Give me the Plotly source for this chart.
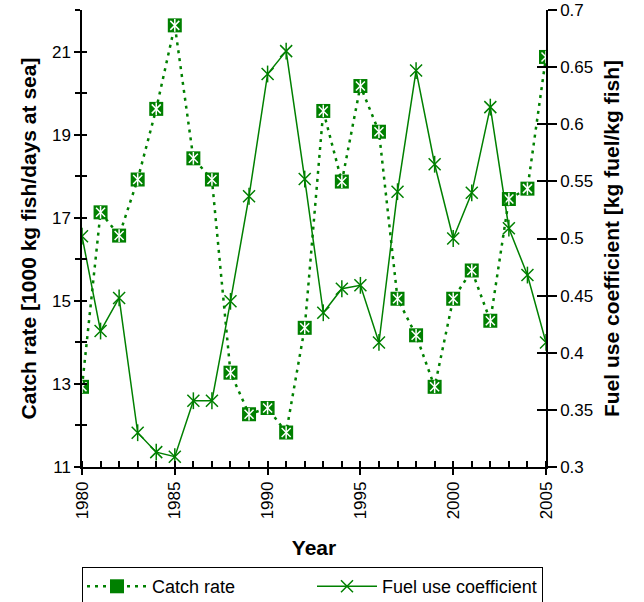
import plotly.graph_objects as go

years = list(range(1980, 2006))
catch_rate = [12.93, 17.13, 16.57, 17.92, 19.62, 21.63, 18.43, 17.92, 13.27, 12.27,
              12.42, 11.83, 14.35, 19.57, 17.87, 20.17, 19.07, 15.05, 14.17, 12.93,
              15.05, 15.73, 14.52, 17.45, 17.70, 20.87]
fuel_coef = [0.502, 0.419, 0.448, 0.330, 0.313, 0.309, 0.358, 0.358, 0.445, 0.537,
             0.644, 0.664, 0.552, 0.435, 0.456, 0.459, 0.409, 0.541, 0.647, 0.565,
             0.500, 0.540, 0.615, 0.509, 0.468, 0.409]

GREEN = "#008000"
FONT = "Arial, Liberation Sans, sans-serif"

fig = go.Figure()

# Catch rate: dotted line with filled square markers, white asterisk inside
fig.add_trace(go.Scatter(
    x=years, y=catch_rate, name="Catch rate", mode="lines+markers",
    line=dict(color=GREEN, width=2.5, dash="3px,5px"),
    marker=dict(symbol="square", size=14, color=GREEN, line=dict(width=0)),
    legendgroup="c", yaxis="y", xaxis="x"))
fig.add_trace(go.Scatter(
    x=years, y=catch_rate, mode="markers", showlegend=False, hoverinfo="skip",
    marker=dict(symbol="x-thin-open", size=9, color="white", line=dict(color="white", width=1.5)),
    legendgroup="c"))
fig.add_trace(go.Scatter(
    x=years, y=catch_rate, mode="markers", showlegend=False, hoverinfo="skip",
    marker=dict(symbol="line-ns-open", size=9, color="white", line=dict(color="white", width=1.5)),
    legendgroup="c"))

# Fuel use coefficient: solid line with star markers
fig.add_trace(go.Scatter(
    x=years, y=fuel_coef, name="Fuel use coefficient", mode="lines+markers",
    line=dict(color=GREEN, width=1.5),
    marker=dict(symbol="x-thin-open", size=12, color=GREEN, line=dict(color=GREEN, width=1.5)),
    legendgroup="f", yaxis="y2"))
fig.add_trace(go.Scatter(
    x=years, y=fuel_coef, mode="markers", showlegend=False, hoverinfo="skip",
    marker=dict(symbol="line-ns-open", size=12, color=GREEN, line=dict(color=GREEN, width=1.5)),
    legendgroup="f", yaxis="y2"))

# invisible helpers so the tick-only overlay axes get drawn
fig.add_trace(go.Scatter(x=years, y=catch_rate, xaxis="x2", yaxis="y3", mode="lines",
                         line=dict(color="rgba(0,0,0,0)"), showlegend=False, hoverinfo="skip"))
fig.add_trace(go.Scatter(x=years, y=fuel_coef, xaxis="x2", yaxis="y4", mode="lines",
                         line=dict(color="rgba(0,0,0,0)"), showlegend=False, hoverinfo="skip"))

tickfont = dict(family=FONT, size=17, color="black")
titlefont = dict(family=FONT, size=21, color="black")

fig.update_layout(
    width=644, height=602,
    margin=dict(l=82, r=98, t=10, b=135, autoexpand=False),
    paper_bgcolor="white", plot_bgcolor="white",
    font=dict(family=FONT, color="black"),
    xaxis=dict(range=[1980, 2005], tick0=1980, dtick=5, ticks="outside", ticklen=6,
               tickwidth=1.5, tickcolor="black", tickangle=-90, tickfont=tickfont,
               showline=True, linecolor="black", linewidth=1.5, showgrid=False,
               zeroline=False, automargin=False,
               minor=dict(dtick=1, ticks="inside", ticklen=6, tickwidth=1.5,
                          tickcolor="black", showgrid=False),
               title=dict(text="<b>Year</b>", font=titlefont, standoff=22)),
    xaxis2=dict(range=[1980, 2005], overlaying="x", anchor="y", side="bottom",
                tick0=1980, dtick=5, ticks="inside", ticklen=6, tickwidth=1.5,
                tickcolor="black", showticklabels=False, showline=False,
                showgrid=False, zeroline=False),
    yaxis=dict(range=[11, 22], tick0=11, dtick=2, ticks="outside", ticklen=6,
               tickwidth=1.5, tickcolor="black", tickfont=tickfont,
               showline=True, linecolor="black", linewidth=1.5, showgrid=False,
               zeroline=False, automargin=False,
               minor=dict(dtick=1, ticks="outside", ticklen=5, tickwidth=1.5,
                          tickcolor="black", showgrid=False),
               title=dict(text="<b>Catch rate [1000 kg fish/days at sea]</b>",
                          font=titlefont, standoff=10)),
    yaxis3=dict(range=[11, 22], overlaying="y", anchor="x", side="left",
                tick0=11, dtick=1, ticks="inside", ticklen=5, tickwidth=1.5,
                tickcolor="black", showticklabels=False, showline=False,
                showgrid=False, zeroline=False),
    yaxis2=dict(range=[0.3, 0.7], tick0=0.3, dtick=0.05, overlaying="y", side="right",
                anchor="x", ticks="outside", ticklen=9, tickwidth=1.5,
                tickcolor="black", tickfont=tickfont, automargin=False,
                showline=True, linecolor="black", linewidth=1.5, showgrid=False,
                zeroline=False,
                title=dict(text="<b>Fuel use coefficient [kg fuel/kg fish]</b>",
                           font=titlefont, standoff=12)),
    yaxis4=dict(range=[0.3, 0.7], overlaying="y", anchor="x", side="right",
                tick0=0.3, dtick=0.05, ticks="inside", ticklen=9, tickwidth=1.5,
                tickcolor="black", showticklabels=False, showline=False,
                showgrid=False, zeroline=False),
    legend=dict(orientation="h", x=0, y=-0.219, xanchor="left", yanchor="top",
                bordercolor="black", borderwidth=1, bgcolor="white",
                font=dict(family=FONT, size=18, color="black"),
                entrywidth=155, itemwidth=60, tracegroupgap=0),
    showlegend=True,
)

fig.write_html("out.html")
